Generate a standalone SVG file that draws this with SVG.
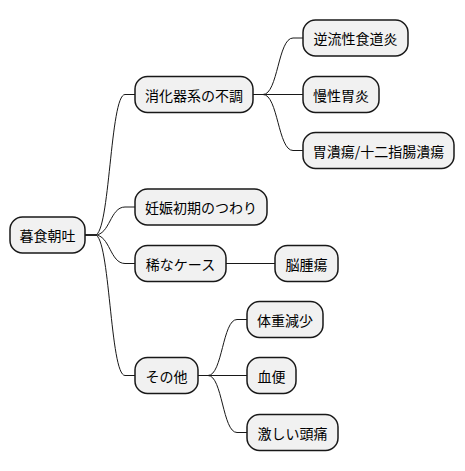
<svg xmlns="http://www.w3.org/2000/svg" width="465" height="471" viewBox="0 0 465 471">
<style>
.n rect{fill:#F1F1F1;stroke:#181818;stroke-width:1.5}
.n text{font-family:"Noto Sans CJK JP","Noto Sans",sans-serif;font-size:14px;fill:#000;text-anchor:middle;dominant-baseline:central}
#edges path{fill:none;stroke:#181818;stroke-width:1}
</style>
<rect width="465" height="471" fill="#FFFFFF"/>
<g id="edges">
<path d="M85,235 L95,235 C110,235 110,94.5 125,94.5 L135,94.5"/>
<path d="M85,235 L95,235 C110,235 110,207 125,207 L135,207"/>
<path d="M85,235 L95,235 C110,235 110,263.5 125,263.5 L135,263.5"/>
<path d="M85,235 L95,235 C110,235 110,375.5 125,375.5 L135,375.5"/>
<path d="M253,94.5 L263,94.5 C278,94.5 278,38 293,38 L303,38"/>
<path d="M253,94.5 L303,94.5"/>
<path d="M253,94.5 L263,94.5 C278,94.5 278,150.5 293,150.5 L303,150.5"/>
<path d="M226,263.5 L275,263.5"/>
<path d="M198,375.5 L208,375.5 C222.5,375.5 222.5,319.5 237,319.5 L247,319.5"/>
<path d="M198,375.5 L247,375.5"/>
<path d="M198,375.5 L208,375.5 C222.5,375.5 222.5,432.5 237,432.5 L247,432.5"/>
</g>
<g id="root" class="n"><rect x="10" y="217" width="75" height="36" rx="12.5"/><text x="47.5" y="235">暮食朝吐</text></g>
<g id="n1" class="n"><rect x="135" y="76.5" width="118" height="36" rx="12.5"/><text x="194" y="94.5">消化器系の不調</text></g>
<g id="n1a" class="n"><rect x="303" y="20" width="105" height="36" rx="12.5"/><text x="355.5" y="38">逆流性食道炎</text></g>
<g id="n1b" class="n"><rect x="303" y="76.5" width="76" height="36" rx="12.5"/><text x="341" y="94.5">慢性胃炎</text></g>
<g id="n1c" class="n"><rect x="303" y="132.5" width="151" height="36" rx="12.5"/><text x="378.5" y="150.5">胃潰瘍/十二指腸潰瘍</text></g>
<g id="n2" class="n"><rect x="135" y="189" width="132" height="36" rx="12.5"/><text x="201" y="207">妊娠初期のつわり</text></g>
<g id="n3" class="n"><rect x="135" y="245.5" width="91" height="36" rx="12.5"/><text x="180.5" y="263.5">稀なケース</text></g>
<g id="n3a" class="n"><rect x="275" y="245.5" width="63" height="36" rx="12.5"/><text x="306.5" y="263.5">脳腫瘍</text></g>
<g id="n4" class="n"><rect x="135" y="357.5" width="63" height="36" rx="12.5"/><text x="166.5" y="375.5">その他</text></g>
<g id="n4a" class="n"><rect x="247" y="301.5" width="76" height="36" rx="12.5"/><text x="285" y="319.5">体重減少</text></g>
<g id="n4b" class="n"><rect x="247" y="357.5" width="49" height="36" rx="12.5"/><text x="271.5" y="375.5">血便</text></g>
<g id="n4c" class="n"><rect x="247" y="414.5" width="91" height="36" rx="12.5"/><text x="292.5" y="432.5">激しい頭痛</text></g>
</svg>
